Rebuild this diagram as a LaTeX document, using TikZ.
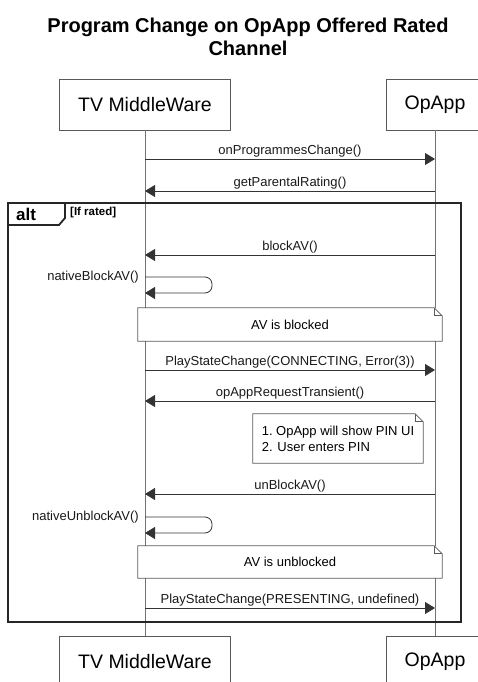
\documentclass[tikz,border=0pt]{standalone}
\usepackage{fontspec}
\setmainfont{Liberation Sans}
\tikzstyle{actor}=[rectangle,draw=black!65,fill=white,minimum height=51pt,inner sep=0pt,font=\fontsize{19.5}{21}\selectfont]
\tikzstyle{msg}=[draw=black!80,line width=0.8pt,-{Triangle[length=10pt,width=12pt]}]
\usetikzlibrary{arrows.meta,positioning}

\begin{document}
\begin{tikzpicture}[x=1pt,y=-1pt,node distance=2pt]
	\tikzstyle{lbl}=[font=\fontsize{13}{14}\selectfont,inner sep=1pt,text=black!90]
	\tikzstyle{note}=[rectangle,fill=white,inner sep=0pt,font=\fontsize{13}{16}\selectfont]
	\tikzstyle{life}=[draw=black!55,line width=0.8pt]
	\tikzstyle{fragline}=[draw=black!85,line width=1.8pt]

	\useasboundingbox (0,0) rectangle (477,682);
	\node[font=\bfseries\fontsize{20}{23}\selectfont,align=center] (title) at (248,37) {Program Change on OpApp Offered Rated\\Channel};

	% lifelines
	\node[actor,minimum width=171pt] (tvtop) at (145,104.5) {TV MiddleWare};
	\node[actor,minimum width=98pt] (optop) at (435,104.5) {OpApp};
	\node[actor,minimum width=171pt] (tvbot) at (145,661.5) {TV MiddleWare};
	\node[actor,minimum width=98pt] (opbot) at (435,661.5) {OpApp};
	\draw[life] (tvtop) -- (tvbot);
	\draw[life] (optop) -- (opbot);

	% alt fragment
	\draw[fragline] (8,203) rectangle (461,622);
	\draw[fragline] (8,225) -- (59,225) -- (65,218) -- (65,203);
	\node[font=\bfseries\fontsize{17}{18}\selectfont,anchor=west,inner sep=0pt] (altlbl) at (16,214) {alt};
	\node[font=\bfseries\fontsize{11.5}{12}\selectfont,anchor=west,inner sep=0pt] (guard) at (70,213) {[If rated]};

	\foreach \n/\y in {1/159,2/191,3/255,4/370,5/401,6/494,7/608}{
		\coordinate (tv\n) at (145,\y);
		\coordinate (op\n) at (435,\y);
	}
	\coordinate (sa) at (145,277);
	\coordinate (sb) at (145,293);
	\coordinate (sc) at (145,517);
	\coordinate (sd) at (145,533);

	\draw[msg] (tv1) -- node[lbl,above] (m1) {onProgrammesChange()} (op1);
	\draw[msg] (op2) -- node[lbl,above] (m2) {getParentalRating()} (tv2);
	\draw[msg] (op3) -- node[lbl,above] (m3) {blockAV()} (tv3);
	\draw[msg,rounded corners=7pt] (sa) -- ++(67,0) |- (sb);
	\node[lbl,anchor=east] (nb) at ([xshift=-5pt]sa) {nativeBlockAV()};
	\draw[msg] (tv4) -- node[lbl,above] (m4) {PlayStateChange(CONNECTING, Error(3))} (op4);
	\draw[msg] (op5) -- node[lbl,above] (m5) {opAppRequestTransient()} (tv5);
	\draw[msg] (op6) -- node[lbl,above] (m6) {unBlockAV()} (tv6);
	\draw[msg,rounded corners=7pt] (sc) -- ++(67,0) |- (sd);
	\node[lbl,anchor=east] (nu) at ([xshift=-5pt]sc) {nativeUnblockAV()};
	\draw[msg] (tv7) -- node[lbl,above] (m7) {PlayStateChange(PRESENTING, undefined)} (op7);

	% notes
	\node[note,minimum width=304pt,minimum height=33pt] (blocked) at (290,324.5) {AV is blocked};
	\node[note,minimum width=170pt,minimum height=49pt,align=left] (pin) at (338,438.5) {\frenchspacing 1. OpApp will show PIN UI\\2. User enters PIN};
	\node[note,minimum width=304pt,minimum height=32pt] (unblocked) at (290,562) {AV is unblocked};
	\foreach \n in {blocked,pin,unblocked}{
		\draw[draw=black!65,line width=0.8pt] (\n.south west) -- (\n.north west) -- ([xshift=-8pt]\n.north east) -- ([yshift=-8pt]\n.north east) -- (\n.south east) -- cycle;
		\draw[draw=black!65,line width=0.8pt] ([xshift=-8pt]\n.north east) -- ++(0,8) -- ([yshift=-8pt]\n.north east);
	}
\end{tikzpicture}
\end{document}
